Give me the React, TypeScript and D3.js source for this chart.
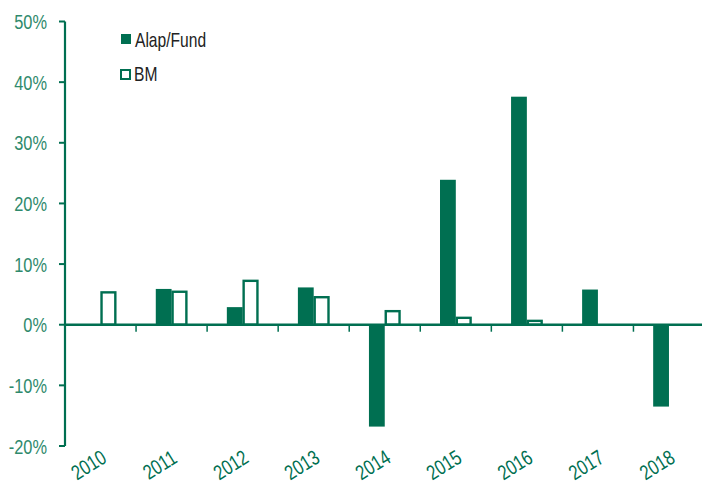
import React from "react";
import * as d3 from "d3";

const years = ["2010", "2011", "2012", "2013", "2014", "2015", "2016", "2017", "2018"];
const fund = [0, 5.9, 2.9, 6.15, -16.8, 23.9, 37.6, 5.8, -13.5];
const bm = [5.5, 5.6, 7.4, 4.7, 2.4, 1.3, 0.8, 0, 0];
const yTicks = [-20, -10, 0, 10, 20, 30, 40, 50];

const green = "#006f51";
const labelGreen = "#2f8a6c";
const font = "'Liberation Sans', Arial, sans-serif";

// narrow text: the reference uses a condensed face, so squeeze a regular one
const NText = ({ x, y, anchor = "start", rotate = 0, fill, size = 21, children }: any) => (
  <g transform={`translate(${x},${y}) rotate(${rotate}) scale(0.78,1)`}>
    <text textAnchor={anchor} fontFamily={font} fontSize={size} fill={fill}>
      {children}
    </text>
  </g>
);

const App = () => {
  const width = 702;
  const height = 490;

  const y = d3.scaleLinear().domain([-20, 50]).range([446, 21.5]);
  const x = d3.scaleBand().domain(years).range([65, 704.5]).padding(0);
  const inner = d3
    .scaleBand()
    .domain(["fund", "bm"])
    .range([x.bandwidth() / 2 - 15.8, x.bandwidth() / 2 + 15.8]);

  const zero = y(0);

  return (
    <svg
      width={width}
      height={height}
      style={{ position: "absolute", left: 0, top: 0, background: "#fff" }}
    >
      {/* bars */}
      {years.map((yr, i) => {
        const x0 = x(yr) as number;
        const f = fund[i];
        const b = bm[i];
        return (
          <g key={yr}>
            {f !== 0 && (
              <rect
                x={x0 + (inner("fund") as number)}
                y={Math.min(y(f), zero)}
                width={inner.bandwidth()}
                height={Math.abs(y(f) - zero)}
                fill={green}
              />
            )}
            {b !== 0 && (
              <rect
                x={x0 + (inner("bm") as number) + 1}
                y={Math.min(y(b), zero) + 1}
                width={inner.bandwidth() - 2}
                height={Math.abs(y(b) - zero) - 1}
                fill="#fff"
                stroke={green}
                strokeWidth={2.4}
              />
            )}
          </g>
        );
      })}

      {/* y axis */}
      <line x1={65} x2={65} y1={y(50)} y2={y(-20)} stroke={green} strokeWidth={2.2} />
      {yTicks.map((t) => (
        <g key={t}>
          <line x1={59} x2={65} y1={y(t)} y2={y(t)} stroke={green} strokeWidth={2} />
          <NText x={47} y={y(t) + 7.5} anchor="end" fill={labelGreen}>
            {t}%
          </NText>
        </g>
      ))}

      {/* zero line + x ticks */}
      <line x1={65} x2={702} y1={zero} y2={zero} stroke={green} strokeWidth={2.6} />
      {years.slice(1).map((yr) => (
        <line
          key={yr}
          x1={x(yr) as number}
          x2={x(yr) as number}
          y1={zero}
          y2={zero + 7}
          stroke={green}
          strokeWidth={1.5}
        />
      ))}
      {years.map((yr) => (
        <NText
          key={yr}
          x={(x(yr) as number) + x.bandwidth() / 2 - 8}
          y={471}
          anchor="middle"
          rotate={-32}
          fill={green}
        >
          {yr}
        </NText>
      ))}

      {/* legend */}
      <rect x={121} y={34} width={10} height={10} fill={green} />
      <NText x={135} y={47} fill="#222" size={20}>
        Alap/Fund
      </NText>
      <rect x={121} y={70} width={9} height={9} fill="#fff" stroke={green} strokeWidth={2} />
      <NText x={134} y={81} fill="#222" size={20}>
        BM
      </NText>
    </svg>
  );
};

export default App;
